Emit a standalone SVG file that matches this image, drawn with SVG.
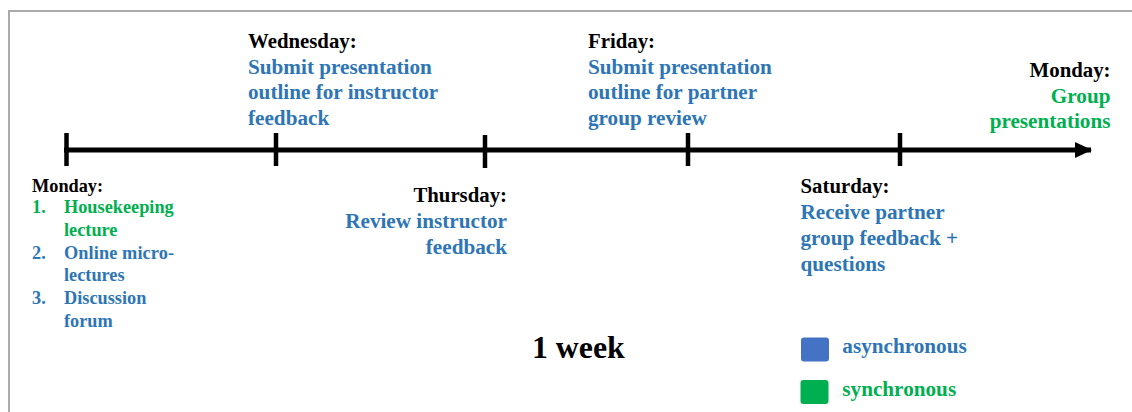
<svg xmlns="http://www.w3.org/2000/svg" width="1132" height="412" viewBox="0 0 1132 412">
<style>
text{font-family:"Liberation Serif","Times New Roman",serif;font-weight:bold;}
.h{font-size:20.8px;fill:#000;}
.b{font-size:21.2px;fill:#2E75B6;}
.g{font-size:21.2px;fill:#00B050;}
.lb{font-size:18.3px;fill:#2E75B6;}
.lg{font-size:18.3px;fill:#00B050;}
.lh{font-size:18.3px;fill:#000;}
.r{text-anchor:end;}
.tick{stroke:#000;stroke-width:4.5;}
</style>
<defs>
<marker id="ah" markerWidth="17" markerHeight="16" refX="16" refY="8" orient="auto" markerUnits="userSpaceOnUse">
<path d="M0,0 L17,8 L0,16 Z" fill="#000"/>
</marker>
</defs>
<rect x="9" y="11" width="1140" height="420" fill="#fff" stroke="#ABABAB" stroke-width="2"/>
<g id="connectors">
<line x1="64" y1="150" x2="1091" y2="150" stroke="#000" stroke-width="5" marker-end="url(#ah)"/>
<line class="tick" x1="66.5" y1="133" x2="66.5" y2="166"/>
<line class="tick" x1="276" y1="133" x2="276" y2="166"/>
<line class="tick" x1="485" y1="135" x2="485" y2="168"/>
<line class="tick" x1="688" y1="133" x2="688" y2="166"/>
<line class="tick" x1="900" y1="133" x2="900" y2="166"/>
</g>
<g id="wednesday">
<text class="h" x="248" y="47.5">Wednesday:</text>
<text class="b" x="248" y="73.5">Submit presentation</text>
<text class="b" x="248" y="99">outline for instructor</text>
<text class="b" x="248" y="124.5">feedback</text>
</g>
<g id="friday">
<text class="h" x="588" y="47.5">Friday:</text>
<text class="b" x="588" y="73.5">Submit presentation</text>
<text class="b" x="588" y="99">outline for partner</text>
<text class="b" x="588" y="124.5">group review</text>
</g>
<g id="monday-end">
<text class="h r" x="1110.5" y="77.3">Monday:</text>
<text class="g r" x="1110.5" y="102.5">Group</text>
<text class="g r" x="1110.5" y="127.5">presentations</text>
</g>
<g id="monday-start">
<text class="lh" x="32" y="191.5">Monday:</text>
<text class="lg" x="32" y="213.3">1.</text>
<text class="lg" x="64" y="213.3">Housekeeping</text>
<text class="lg" x="64" y="236">lecture</text>
<text class="lb" x="32" y="258.5">2.</text>
<text class="lb" x="64" y="258.5" textLength="110" lengthAdjust="spacing">Online  micro-</text>
<text class="lb" x="64" y="281">lectures</text>
<text class="lb" x="32" y="304">3.</text>
<text class="lb" x="64" y="304">Discussion</text>
<text class="lb" x="64" y="326.5">forum</text>
</g>
<g id="thursday">
<text class="h r" x="507" y="202.3">Thursday:</text>
<text class="b r" x="507" y="228.3">Review instructor</text>
<text class="b r" x="507" y="253.5">feedback</text>
</g>
<g id="saturday">
<text class="h" x="800.5" y="193.3">Saturday:</text>
<text class="b" x="800.5" y="219.3">Receive partner</text>
<text class="b" x="800.5" y="245">group feedback +</text>
<text class="b" x="800.5" y="270.5">questions</text>
</g>
<g id="week">
<text x="532" y="358.3" style="font-size:31.8px;fill:#000">1 week</text>
</g>
<g id="legend">
<rect x="801" y="337.5" width="28" height="24" rx="3" fill="#4472C4"/>
<text class="b" x="842.3" y="353">asynchronous</text>
<rect x="800.5" y="380" width="28" height="24" rx="3" fill="#00B050"/>
<text class="g" x="842.3" y="395.7">synchronous</text>
</g>
</svg>
